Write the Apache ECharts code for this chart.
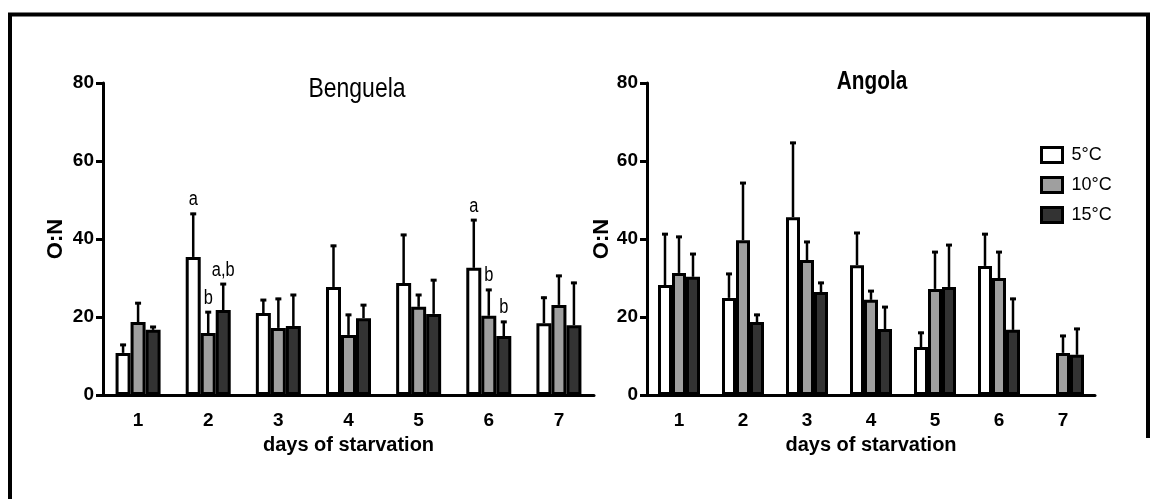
<!DOCTYPE html>
<html>
<head>
<meta charset="utf-8">
<script src="https://cdn.jsdelivr.net/npm/echarts@6/dist/echarts.min.js"></script>
<style>
  html, body { margin: 0; padding: 0; background: #fff; }
  #chart { width: 1156px; height: 499px; }
</style>
</head>
<body>
<div id="chart"></div>
<script>
// Days of starvation and temperature treatments
const days = ['1', '2', '3', '4', '5', '6', '7'];
const temps = ['5°C', '10°C', '15°C'];

// Benguela O:N means and upper error (SD) per temperature
const benguela5 = [10.8, 35.4, 21.0, 27.7, 28.7, 32.6, 18.4];
const benguela5Err = [2.3, 11.3, 3.6, 10.8, 12.6, 12.5, 6.8];
const benguela10 = [18.7, 15.9, 17.2, 15.4, 22.6, 20.3, 23.1];
const benguela10Err = [5.1, 5.6, 7.7, 5.4, 3.3, 6.9, 7.7];
const benguela15 = [16.7, 21.8, 17.7, 19.7, 20.8, 15.1, 17.9];
const benguela15Err = [1.0, 6.9, 8.2, 3.6, 8.9, 3.9, 11.1];

// Significance letters (Benguela)
const benguela5Sig = ['', 'a', '', '', '', 'a', ''];
const benguela10Sig = ['', 'b', '', '', '', 'b', ''];
const benguela15Sig = ['', 'a,b', '', '', '', 'b', ''];

// Angola O:N means and upper error (SD) per temperature
const angola5 = [28.2, 24.9, 45.6, 33.3, 12.3, 33.1, null];
const angola5Err = [13.3, 6.4, 19.3, 8.5, 3.9, 8.4, null];
const angola10 = [31.3, 39.7, 34.6, 24.4, 27.2, 30.0, 10.8];
const angola10Err = [9.5, 14.9, 4.9, 2.5, 9.7, 6.9, 4.6];
const angola15 = [30.3, 18.7, 26.4, 16.9, 27.7, 16.7, 10.3];
const angola15Err = [6.1, 2.1, 2.6, 5.9, 11.0, 8.2, 6.9];

const emptySig = ['', '', '', '', '', '', ''];

const fills = ['#ffffff', '#9f9f9f', '#333333'];
const FONT = "'Liberation Sans', Arial, sans-serif";

function yAxisFor(gridIndex, gap) {
  return {
    type: 'value', gridIndex: gridIndex, min: 0, max: 80, interval: 20,
    name: 'O:N', nameLocation: 'middle', nameGap: gap, nameRotate: 90,
    nameTextStyle: { color: '#000', fontFamily: FONT, fontWeight: 'bold', fontSize: 22 },
    axisLine: { show: true, lineStyle: { color: '#000', width: 3 } },
    axisTick: { show: true, length: 7, lineStyle: { color: '#000', width: 3 } },
    axisLabel: { color: '#000', fontFamily: FONT, fontWeight: 'bold', fontSize: 19, margin: 9 },
    splitLine: { show: false }
  };
}

function xAxisFor(gridIndex) {
  return {
    type: 'category', gridIndex: gridIndex, data: days,
    name: 'days of starvation', nameLocation: 'middle', nameGap: 40,
    nameTextStyle: { color: '#000', fontFamily: FONT, fontWeight: 'bold', fontSize: 20 },
    axisLine: { show: true, lineStyle: { color: '#000', width: 3 } },
    axisTick: { show: false },
    axisLabel: { color: '#000', fontFamily: FONT, fontWeight: 'bold', fontSize: 19, margin: 16 }
  };
}

function barSeries(name, data, slot, gridIndex, bw) {
  return {
    type: 'bar', name: name, xAxisIndex: gridIndex, yAxisIndex: gridIndex,
    data: data.map(v => (v == null ? '-' : v)),
    barWidth: bw, barGap: '0%',
    itemStyle: { color: fills[slot], borderColor: '#000', borderWidth: 3 },
    z: 2
  };
}

// Upward error bar with cap plus optional letter above it
function errorSeries(means, errs, letters, slot, gridIndex, bw) {
  const data = [];
  means.forEach((m, i) => { if (m != null) data.push([i, m, errs[i]]); });
  return {
    type: 'custom', xAxisIndex: gridIndex, yAxisIndex: gridIndex, z: 5,
    silent: true,
    encode: { x: 0, y: 1 },
    data: data,
    renderItem: function (params, api) {
      const i = api.value(0), m = api.value(1), e = api.value(2);
      const base = api.coord([i, m]);
      const top = api.coord([i, m + e]);
      const x = base[0] + (slot - 1) * bw;
      const children = [
        { type: 'line', shape: { x1: x, y1: base[1], x2: x, y2: top[1] },
          style: { stroke: '#000', lineWidth: 2.5 } },
        { type: 'line', shape: { x1: x - 3, y1: top[1] + 1, x2: x + 3, y2: top[1] + 1 },
          style: { stroke: '#000', lineWidth: 3 } }
      ];
      const letter = letters[i];
      if (letter) {
        children.push({ type: 'text', x: x, y: top[1] - 13, scaleX: 0.82,
          style: { text: letter, align: 'center', verticalAlign: 'middle',
                   fontFamily: FONT, fontSize: 20, fill: '#000' } });
      }
      return { type: 'group', children: children };
    }
  };
}

const chart = echarts.init(document.getElementById('chart'), null, { renderer: 'canvas' });

chart.setOption({
  animation: false,
  backgroundColor: '#fff',
  grid: [
    { left: 103, top: 83, width: 491, height: 312 },
    { left: 647, top: 83, width: 448, height: 312 }
  ],
  xAxis: [xAxisFor(0), xAxisFor(1)],
  yAxis: [yAxisFor(0, 36), yAxisFor(1, 31)],
  legend: {
    data: temps, orient: 'vertical', left: 1040, top: 146, padding: 0,
    itemWidth: 21, itemHeight: 15, itemGap: 12, icon: 'rect',
    itemStyle: { borderColor: '#000', borderWidth: 3 },
    textStyle: { color: '#000', fontFamily: FONT, fontSize: 18, padding: [0, 0, 0, 4] },
    selectedMode: false
  },
  graphic: [
    { type: 'polyline', silent: true,
      shape: { points: [[10, 499], [10, 14.5], [1148, 14.5], [1148, 438]] },
      style: { stroke: '#000', lineWidth: 4, fill: null } },
    { type: 'text', x: 357, y: 89, scaleX: 0.82,
      style: { text: 'Benguela', align: 'center', verticalAlign: 'middle',
               fontFamily: FONT, fontSize: 28, fill: '#000' } },
    { type: 'text', x: 872, y: 82, scaleX: 0.8,
      style: { text: 'Angola', align: 'center', verticalAlign: 'middle',
               fontFamily: FONT, fontWeight: 'bold', fontSize: 26, fill: '#000' } }
  ],
  series: [
    barSeries(temps[0], benguela5, 0, 0, 15),
    barSeries(temps[1], benguela10, 1, 0, 15),
    barSeries(temps[2], benguela15, 2, 0, 15),
    barSeries(temps[0], angola5, 0, 1, 14),
    barSeries(temps[1], angola10, 1, 1, 14),
    barSeries(temps[2], angola15, 2, 1, 14),
    errorSeries(benguela5, benguela5Err, benguela5Sig, 0, 0, 15),
    errorSeries(benguela10, benguela10Err, benguela10Sig, 1, 0, 15),
    errorSeries(benguela15, benguela15Err, benguela15Sig, 2, 0, 15),
    errorSeries(angola5, angola5Err, emptySig, 0, 1, 14),
    errorSeries(angola10, angola10Err, emptySig, 1, 1, 14),
    errorSeries(angola15, angola15Err, emptySig, 2, 1, 14)
  ]
});
</script>
</body>
</html>
